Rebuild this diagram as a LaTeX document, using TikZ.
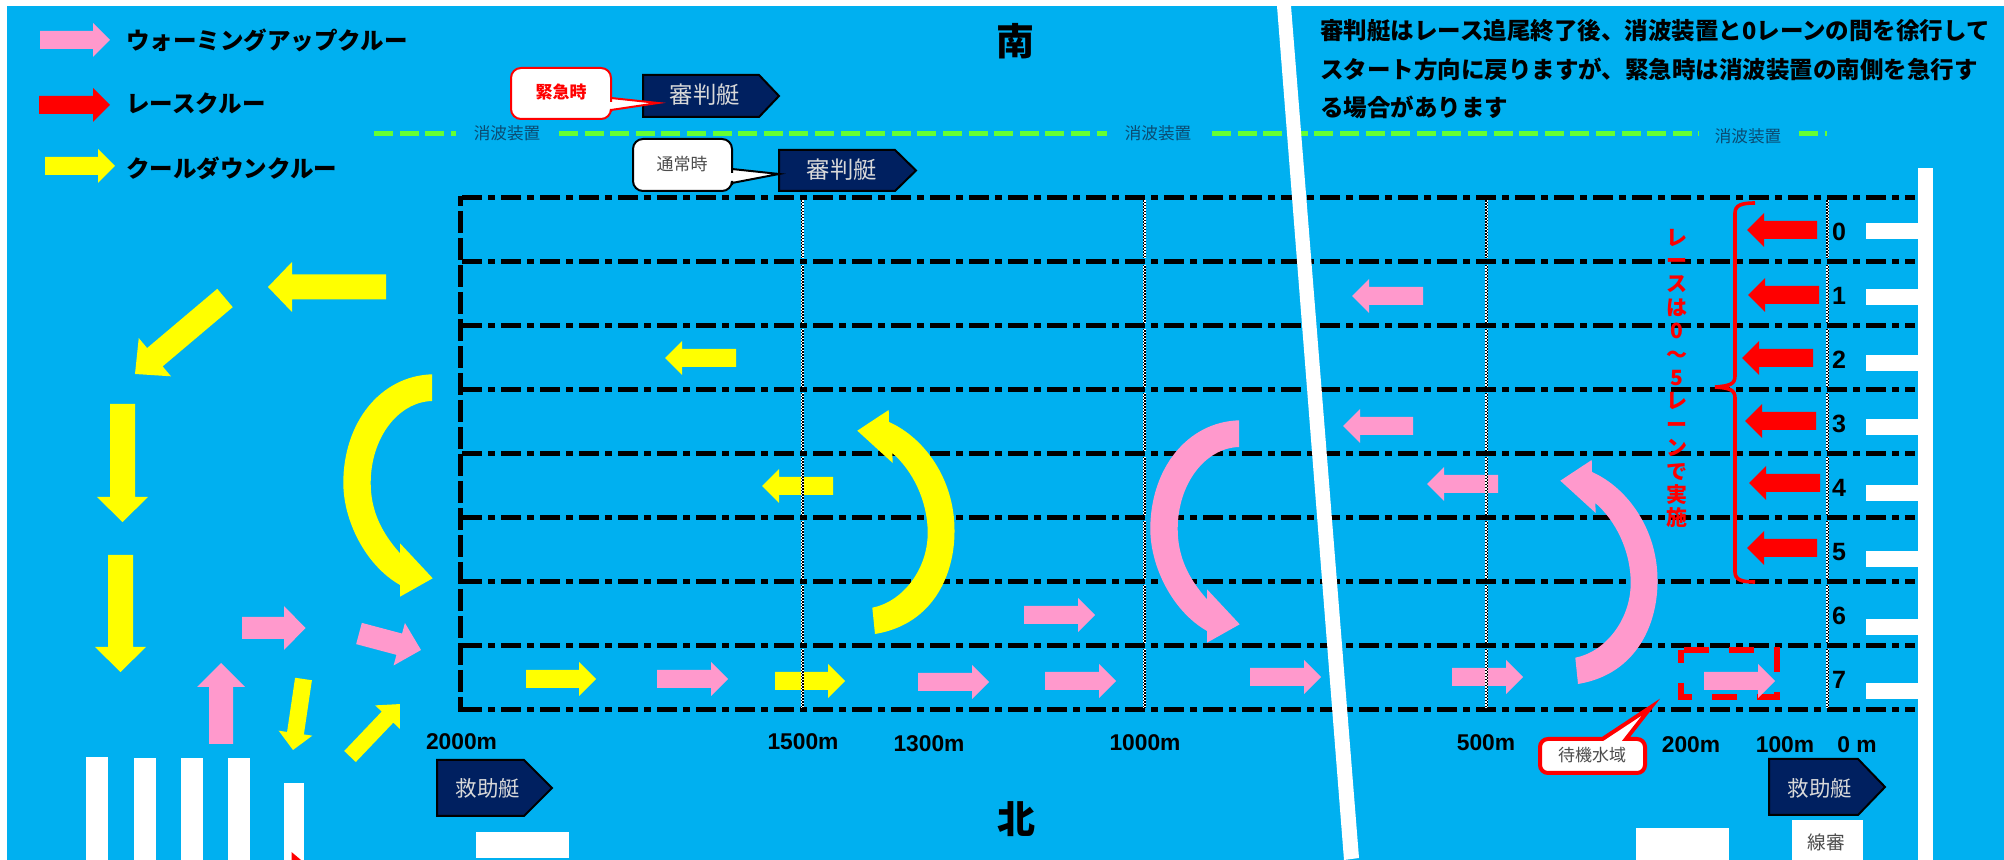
\documentclass[tikz,border=0pt]{standalone}
\usepackage{fontspec}
\setmainfont{Noto Sans CJK JP}
\newfontfamily\latinbold{Liberation Sans}
\definecolor{sea}{HTML}{00B0F0}
\definecolor{pinkarrow}{HTML}{FF99CC}
\definecolor{yellowarrow}{HTML}{FFFF00}
\definecolor{redarrow}{HTML}{FF0000}
\definecolor{wavegreen}{HTML}{66FF33}
\definecolor{navyboat}{HTML}{002060}
\definecolor{wavetext}{HTML}{0B4A70}
\newcommand\pxfont[1]{\fontsize{#1}{#1}\selectfont}
% colour, x1, y1, x2, y2, body half, head half, head length
\newcommand\blockarrow[8]{%
  \pgfmathsetmacro\arang{atan2(-(#5-#3),#4-#2)}%
  \pgfmathsetmacro\arlen{veclen(#4-#2,#5-#3)}%
  \pgfmathsetmacro\arbase{\arlen-#8}%
  \begin{scope}[shift={(#2,#3)},rotate=\arang]
    \fill[#1] (0,-#6) -- (\arbase,-#6) -- (\arbase,-#7) -- (\arlen,0) -- (\arbase,#7) -- (\arbase,#6) -- (0,#6) -- cycle;
  \end{scope}}
\newcommand\sarrow[5]{\blockarrow{#1}{#2}{#3}{#4}{#5}{9}{17}{17}}
\newcommand\curveleft[3]{%
  \begin{scope}[shift={(#2,#3)}]
    \fill[#1] (432,374.3) .. controls (380,376) and (343.3,423) .. (343.3,483)
      .. controls (343.3,520) and (365,565) .. (400,585)
      -- (400,596.7) -- (432.7,578.3) -- (400,543.3) -- (400,553.3)
      .. controls (381,532) and (370.7,510) .. (370.7,483)
      .. controls (370.7,438) and (398,402) .. (432,401) -- cycle;
  \end{scope}}
\newcommand\curveright[3]{%
  \begin{scope}[shift={(#2,#3)}]
    \fill[#1] (889,422) .. controls (925,438) and (954.5,480) .. (954.5,530)
      .. controls (955,572) and (935,624) .. (875,634)
      -- (872.3,607.7) .. controls (902,602) and (927.7,570) .. (927.7,533)
      .. controls (927.7,500) and (912,470) .. (892.3,453)
      -- (892.7,463) -- (857.3,430.7) -- (888.7,410) -- cycle;
  \end{scope}}
\tikzset{
  laneline/.style={line width=2.5pt,black,dash pattern=on 10pt off 3pt on 3.5pt off 3pt},
  startline/.style={line width=2.5pt,black,dash pattern=on 11pt off 2.5pt,dash phase=6pt},
  wavebreak/.style={line width=2.5pt,wavegreen,dash pattern=on 9.5pt off 3.3pt},
  checkwhite/.style={line width=1.5pt,white},
  checkblack/.style={line width=0.75pt,black,dash pattern=on 0.75pt off 0.75pt},
  boat/.style={fill=navyboat,draw=black,line width=1pt},
  boattext/.style={inner sep=0pt,text=white!85!black},
  legendtext/.style={inner sep=0pt,anchor=west,font=\pxfont{11.75}\bfseries},
  wavetextstyle/.style={inner sep=0pt,text=wavetext,font=\pxfont{8.3}},
  disttext/.style={inner sep=0pt,font=\latinbold\pxfont{11.4}\bfseries},
  lanetext/.style={inner sep=0pt,font=\latinbold\pxfont{12.5}\bfseries},
  whitebar/.style={fill=white},
  callred/.style={fill=white,draw=redarrow,line width=1pt},
  callblack/.style={fill=white,draw=black,line width=1pt},
}
\begin{document}
\begin{tikzpicture}[x=0.5pt,y=-0.5pt]
\useasboundingbox (0,0) rectangle (2004,860);
\fill[white] (0,0) rectangle (2004,860);
\fill[sea] (7,6) rectangle (2004,860);

% lanes
\foreach \yy in {197.5,261.6,325.7,389.8,453.9,518,582,646,710}
  \draw[laneline] (462,\yy) -- (1915,\yy);
\draw[startline] (460.5,196) -- (460.5,712);

% wave breakers
\draw[wavebreak] (374,133.5) -- (456,133.5);
\draw[wavebreak] (559,133.5) -- (1107,133.5);
\draw[wavebreak] (1212,133.5) -- (1699,133.5);
\draw[wavebreak] (1799,133.5) -- (1827,133.5);
\node[wavetextstyle] (wave1) at (507,133) {消波装置};
\node[wavetextstyle] (wave2) at (1158,133) {消波装置};
\node[wavetextstyle] (wave3) at (1748,136) {消波装置};

% white marks
\fill[whitebar] (1918,168) rectangle (1933,860);
\foreach \yy in {223,289,355,419,485,551,619,683}
  \fill[whitebar] (1866,\yy) rectangle (1919,\yy+16);
\fill[whitebar] (86,757) rectangle (108,860);
\fill[whitebar] (134,758) rectangle (156,860);
\fill[whitebar] (181,758) rectangle (203,860);
\fill[whitebar] (228,758) rectangle (250,860);
\fill[whitebar] (284,783) rectangle (304,860);
\fill[redarrow] (291.5,852) -- (301,860) -- (291.5,860) -- cycle;
\fill[whitebar] (476,832) rectangle (569,858);
\fill[whitebar] (1636,828) rectangle (1729,860);
\fill[whitebar] (1792,820) rectangle (1863,860);
\node[inner sep=0pt,text=black!70,font=\pxfont{9.3}] (judge) at (1826,842) {線審};

% legend
\sarrow{pinkarrow}{40}{40}{110}{40}
\sarrow{redarrow}{39}{105}{110}{105}
\sarrow{yellowarrow}{45}{166}{115}{166}
\node[legendtext] (legend1) at (126,40) {ウォーミングアップクルー};
\node[legendtext] (legend2) at (126,104) {レースクルー};
\node[legendtext] (legend3) at (126,168) {クールダウンクルー};

% compass
\node[inner sep=0pt,font=\pxfont{19}\bfseries] (south) at (1015,41) {南};
\node[inner sep=0pt,font=\pxfont{19}\bfseries] (north) at (1016,819) {北};

% note
\node[inner sep=0pt,anchor=north west,align=left,font=\fontsize{11.75}{19.3}\selectfont\bfseries] (note) at (1320,19)
  {審判艇はレース追尾終了後、消波装置と0レーンの間を徐行して\\
   スタート方向に戻りますが、緊急時は消波装置の南側を急行す\\
   る場合があります};

% curved arrows
\curveleft{yellowarrow}{0}{0}
\curveright{yellowarrow}{0}{0}
\curveleft{pinkarrow}{807}{46}
\curveright{pinkarrow}{703}{50}

% yellow arrows, left area
\blockarrow{yellowarrow}{386}{287}{268}{287}{12.5}{25}{24}
\blockarrow{yellowarrow}{225}{298}{135}{374}{12}{25}{26}
\blockarrow{yellowarrow}{122.5}{404}{122.5}{522}{12.5}{25.5}{25}
\blockarrow{yellowarrow}{120.5}{555}{120.5}{672}{12.5}{25.5}{25}
\blockarrow{yellowarrow}{303.5}{679}{293}{750}{8.5}{17}{17}
\blockarrow{yellowarrow}{350}{756.5}{400}{704}{8}{17}{18}
% pink arrows, left area
\blockarrow{pinkarrow}{242}{628}{305.5}{628}{11}{22}{21.5}
\blockarrow{pinkarrow}{359}{633.5}{421}{650}{11}{22}{22.5}
\blockarrow{pinkarrow}{221}{744}{221}{663}{12}{24}{24}

% small arrows on the course
\sarrow{yellowarrow}{526}{679}{596}{679}
\sarrow{pinkarrow}{657}{679}{728}{679}
\sarrow{yellowarrow}{775}{681}{845}{681}
\sarrow{pinkarrow}{918}{682}{989}{682}
\sarrow{pinkarrow}{1045}{681}{1116}{681}
\sarrow{pinkarrow}{1024}{615}{1095}{615}
\sarrow{pinkarrow}{1250}{677}{1321}{677}
\sarrow{pinkarrow}{1452}{677}{1523}{677}
\sarrow{pinkarrow}{1498}{484}{1427}{484}
\sarrow{pinkarrow}{1423}{296}{1352}{296}
\sarrow{pinkarrow}{1413}{426}{1343}{426}
\sarrow{yellowarrow}{736}{358}{665}{358}
\sarrow{yellowarrow}{833}{486}{762}{486}

% waiting area
\draw[redarrow,line width=3pt,dash pattern=on 12.5pt off 10pt,dash phase=21pt] (1681,650) -- (1777,650) -- (1777,697) -- (1681,697) -- cycle;
\sarrow{pinkarrow}{1704}{681}{1775}{681}

% red crew arrows
\sarrow{redarrow}{1817}{230}{1747}{230}
\sarrow{redarrow}{1819}{295}{1748}{295}
\sarrow{redarrow}{1813}{358}{1742}{358}
\sarrow{redarrow}{1816}{421}{1745}{421}
\sarrow{redarrow}{1820}{483}{1749}{483}
\sarrow{redarrow}{1817}{548}{1747}{548}

% brace
\draw[redarrow,line width=1.8pt] (1755,203) .. controls (1742,203) and (1735,205) .. (1735,213)
  -- (1735,376) .. controls (1735,384) and (1730,386) .. (1715,387)
  .. controls (1730,388) and (1735,390) .. (1735,398)
  -- (1735,572) .. controls (1735,580) and (1742,582) .. (1755,582);
\node[inner sep=0pt,align=center,text=redarrow,font=\fontsize{10.5}{11.7}\selectfont\bfseries] (racetext) at (1677,378.5)
  {レ\\ー\\ス\\は\\0\\～\\5\\レ\\ー\\ン\\で\\実\\施};

% distance markers: one chequered piece per lane
\foreach \xx in {802,1144,1486.5,1827.5}{
  \foreach \ya/\yb in {200.5/258.5,264.6/322.7,328.7/386.8,392.8/450.9,456.9/515,521/579,585/643,649/708}{
    \draw[checkwhite] (\xx,\ya) -- (\xx,\yb);
    \draw[checkblack] (\xx-0.75,\ya) -- (\xx-0.75,\yb);
    \draw[checkblack,dash phase=0.75pt] (\xx+0.75,\ya) -- (\xx+0.75,\yb);
  }
}

% lane numbers
\foreach \nn/\yy in {0/232,1/296,2/360,3/424,4/488,5/552,6/616,7/680}
  \node[lanetext] (lane\nn) at (1839,\yy) {\nn};

% distance labels
\node[disttext] (d2000) at (461.5,742) {2000m};
\node[disttext] (d1500) at (803,742) {1500m};
\node[disttext] (d1300) at (929,744) {1300m};
\node[disttext] (d1000) at (1145,743) {1000m};
\node[disttext] (d500) at (1486,743) {500m};
\node[disttext] (d200) at (1691,745) {200m};
\node[disttext] (d100) at (1785,745) {100m};
\node[disttext] (d0) at (1857,745) {0 m};

% boats
\draw[boat] (643,75) -- (759,75) -- (779,96) -- (759,117) -- (643,117) -- cycle;
\node[boattext,font=\pxfont{11.7}] (judgeboat1) at (705,95) {審判艇};
\draw[boat] (779,150) -- (895,150) -- (916,170.5) -- (895,191) -- (779,191) -- cycle;
\node[boattext,font=\pxfont{11.7}] (judgeboat2) at (842,170) {審判艇};
\draw[boat] (437,760) -- (524,760) -- (552,788) -- (524,816) -- (437,816) -- cycle;
\node[boattext,font=\pxfont{10.7}] (rescue1) at (488,788) {救助艇};
\draw[boat] (1769,759) -- (1858,759) -- (1885,787) -- (1858,815) -- (1769,815) -- cycle;
\node[boattext,font=\pxfont{10.7}] (rescue2) at (1820,788) {救助艇};

% callouts
\draw[callred,rounded corners=5pt] (560,68) -- (611,68) -- (611,92) [sharp corners] -- (611,98) -- (658,103) -- (611,110) -- (611,112) [rounded corners=5pt] -- (611,119) -- (511,119) -- (511,68) -- cycle;
\node[inner sep=0pt,text=redarrow,font=\pxfont{8.5}\bfseries] (urgent) at (561,92) {緊急時};
\draw[callblack,rounded corners=5pt] (680,139) -- (732,139) -- (732,163) [sharp corners] -- (732,169) -- (779,174) -- (732,183) -- (732,185) [rounded corners=5pt] -- (732,191) -- (633,191) -- (633,139) -- cycle;
\node[inner sep=0pt,text=black!70,font=\pxfont{8.5}] (normal) at (682,164) {通常時};
\draw[callred,line width=2pt,rounded corners=4pt] (1575,739) [sharp corners] -- (1602.5,739) -- (1651,707) -- (1626,739) -- (1632,739) [rounded corners=4pt] -- (1645,739) -- (1645,773) -- (1540,773) -- (1540,739) -- cycle;
\node[inner sep=0pt,text=black!70,font=\pxfont{8.5}] (waiting) at (1592,755) {待機水域};

% white diagonal
\fill[white] (1277,6) -- (1291,6) -- (1359,858) -- (1344,860) -- cycle;
\end{tikzpicture}
\end{document}
